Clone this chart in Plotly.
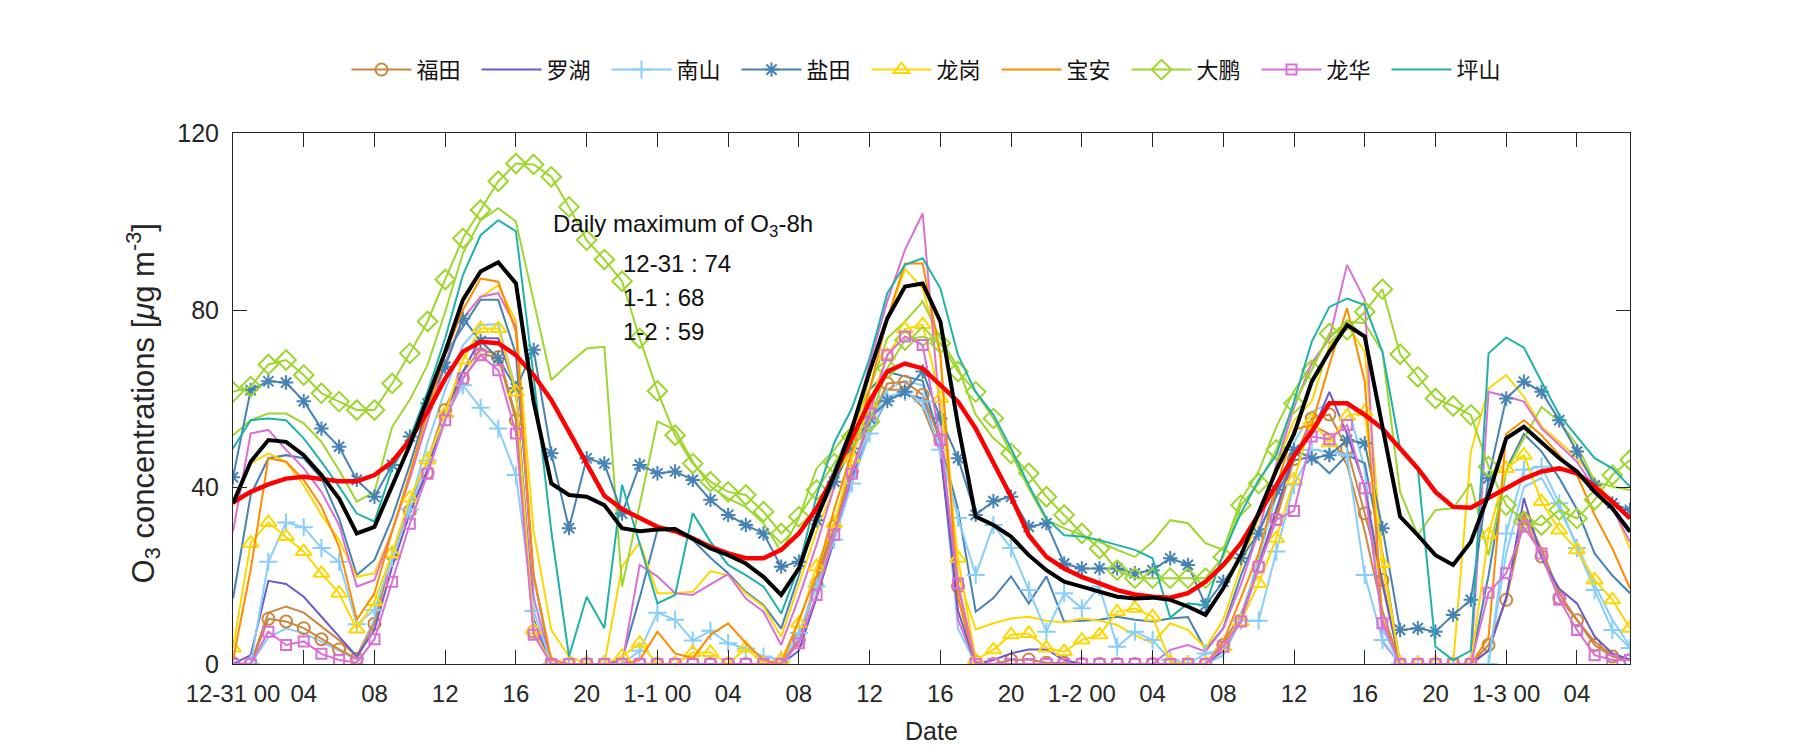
import plotly.graph_objects as go

# ---------------- data (hourly, 12-31 00:00 .. 1-3 07:00) ----------------
hours = list(range(80))
tick_hours = list(range(0, 80, 4))
tick_text = ["12-31 00", "04", "08", "12", "16", "20",
             "1-1 00", "04", "08", "12", "16", "20",
             "1-2 00", "04", "08", "12", "16", "20",
             "1-3 00", "04"]

futian = [0.2, 0, 10.2, 9.6, 8.1, 5.6, 3.3, 1.2, 9.1, 24.7,
          34.6, 43.3, 57.4, 64.5, 70.0, 69.4, 55.1, 7.3, 0, 0,
          0, 0, 0, 0, 0, 0, 0, 0, 0, 0,
          0, 0, 5.4, 18.1, 31.2, 43.5, 54.8, 63.4, 63.8, 60.8,
          50.6, 17.5, 0.5, 0, 0.9, 1.0, 0.3, 0.3, 0, 0,
          0, 0, 0, 0, 0, 0, 4.3, 9.8, 22.0, 32.7,
          46.3, 55.5, 56.4, 48.7, 34.0, 19.0, 0, 0, 0, 0,
          0, 4.3, 14.5, 32.9, 24.3, 14.9, 9.9, 4.3, 1.7, 0.9]
futian_b = [0, 0, 11.6, 13.0, 11.6, 8.5, 5.4, 1.7, 10.0, 25.0,
            36.0, 46.0, 58.0, 66.0, 71.0, 70.0, 56.0, 8.0, 0, 0,
            0, 0, 0, 0, 0, 0, 0, 0, 0, 0,
            0, 0, 6, 19, 32, 44, 55, 62, 62, 58,
            48, 15, 0, 0, 0, 0, 0, 0, 0, 0,
            0, 0, 0, 0, 0, 0, 5, 11, 23, 34,
            47, 54, 52, 45, 30, 12, 0, 0, 0, 0,
            0, 3, 15, 34, 26, 16, 10, 5, 2, 1]
luohu = [0, 2, 18.8, 18.1, 15.2, 10.7, 6.2, 1.7, 7.7, 22,
         34, 44, 57, 66, 73.6, 73.6, 62, 10, 0, 0,
         0, 0, 0, 0, 0, 0, 0, 0, 0, 0,
         0, 0, 3, 15, 28, 42, 52, 60, 61, 60,
         48, 12, 0, 0.9, 2.4, 3.3, 3.3, 0.9, 0, 0,
         0, 0, 0, 0, 0, 0, 3, 10, 22, 35,
         47, 52, 61.5, 52, 40, 18, 0, 0, 0, 0,
         0, 3, 15, 37.5, 24, 17, 13.7, 6.2, 2.4, 1.0]
nanshan = [0, 0, 23.1, 32.0, 30.9, 26.2, 23.1, 9.0, 12.2, 24,
           35, 46, 56, 63, 57.9, 53.2, 42.7, 12, 0, 0,
           0, 0, 0, 3, 11.6, 10, 5.3, 7.5, 4.7, 3.5,
           1.7, 1.0, 7, 17.5, 28.1, 40.8, 52.1, 60.4, 61.5, 59.3,
           48.4, 33, 20.1, 31.4, 26.2, 16.7, 7.3, 16.0, 12.6, 17.5,
           3.9, 7.3, 5.4, 0.9, 0, 2.4, 3.2, 9.8, 9.8, 25.4,
           40.5, 48.4, 48.0, 47.2, 20.1, 5.4, 0, 0, 0, 0,
           0, 0, 29.5, 43.9, 44.6, 36.3, 26.2, 16.7, 7.7, 3.6]
nanshan_b = [0, 0, 6, 8, 7, 5, 3, 1, 10, 25,
             36, 50, 62, 72, 76.6, 76.8, 62, 10, 0, 0,
             0, 0, 0, 0, 0, 0, 0, 0, 0, 0,
             0, 0, 6, 18, 30, 42, 54, 62, 64, 63,
             50, 8, 0, 0, 0, 0, 0, 0, 0, 0,
             0, 0, 0, 0, 0, 0, 2, 10, 24, 38,
             50, 57, 59, 59, 44, 8, 0, 0, 0, 0,
             0, 0, 25, 40, 42, 35, 27, 18, 10, 4]
yantian = [42.2, 61.9, 63.9, 63.6, 59.4, 53.2, 49.1, 41.6, 37.8, 45.0,
           51.4, 58.9, 67.2, 78.1, 73.0, 69.1, 62.3, 71.0, 47.6, 30.7,
           46.5, 45.3, 34.0, 45.0, 43.1, 43.5, 41.6, 37.1, 33.7, 31.4,
           29.5, 22.0, 23.1, 32.5, 41.2, 48.7, 55.5, 59.4, 61.5, 66.1,
           55.5, 46.5, 33.7, 36.8, 37.8, 31.0, 31.8, 22.7, 21.6, 21.6,
           21.6, 20.5, 21.2, 23.9, 22.4, 13.3, 18.6, 23.9, 29.5, 39.3,
           48.4, 46.5, 47.2, 50.6, 49.9, 30.7, 7.7, 8.1, 7.3, 11.1,
           14.5, 42.0, 60.0, 63.8, 61.5, 55.1, 48.0, 40.4, 36.3, 34.8]
yantian_b = [14.8, 38.2, 46.5, 47.2, 46.5, 42.0, 32.9, 20.1, 23.5, 33.0,
             45.0, 58.0, 70.0, 76.0, 82.3, 82.3, 70.0, 20.0, 0, 0,
             0, 0, 1, 15, 30.3, 30.5, 28, 24, 20.5, 16.3,
             13.3, 8, 20, 34, 44, 54, 62, 66, 65, 64,
             50, 35, 11.8, 14.9, 19.8, 13.7, 19.8, 9.6, 9.8, 10.0,
             10.7, 10.0, 9.6, 10.3, 10.6, 3.2, 8.1, 20, 30, 38,
             46, 46.9, 43.1, 47.2, 45.4, 25, 0, 0, 0, 0,
             0, 20, 44, 52, 48, 42, 35, 25, 20, 16]
longgang = [3.6, 27.3, 32.0, 28.8, 25.4, 20.5, 16.0, 7.9, 14.1, 25.0,
            37.5, 46.1, 56.6, 68.7, 75.8, 75.8, 61.5, 7.7, 0, 0,
            0, 0, 1.7, 4.7, 0, 0, 2.6, 2.6, 0, 3.6,
            0, 1, 9.2, 22.0, 31.8, 46.5, 58.9, 69.8, 75.7, 76.7,
            60.0, 23.9, 0.9, 3.2, 6.6, 6.9, 3.6, 2.8, 5.4, 6.6,
            11.8, 12.6, 10.7, 0.5, 0, 0, 3.9, 9.6, 18.2, 28.4,
            41.6, 55, 50, 56, 57, 22.7, 0, 0, 0, 0,
            0, 29.2, 44.2, 47.2, 36.7, 30.3, 25.8, 19.0, 14.5, 8.1]
longgang_b = [35.9, 45.3, 47.6, 45.7, 40.4, 33.7, 28.0, 19.7, 20.5, 30.0,
              42.0, 55.0, 68.0, 78.0, 82.9, 85.6, 77.4, 30.0, 7.7, 1.7,
              0, 0, 22.0, 27.5, 16.0, 16.0, 16.3, 21.0, 20.0, 16.0,
              13.0, 6.2, 18.0, 30.0, 40.0, 50.0, 65.0, 78.0, 89.3, 84.9,
              70.0, 20.0, 7.8, 9.2, 10.3, 10.7, 9.8, 9.4, 10.3, 9.8,
              8.8, 6.6, 4.7, 9.2, 7.7, 3.6, 10.0, 22.0, 33.0, 45.0,
              55.0, 59.3, 72.0, 76.6, 70.6, 24.3, 0, 0, 0, 0,
              48.0, 62.3, 65.3, 60.4, 53.6, 50.2, 46.5, 41.9, 35.9, 26.1]
baoan = [0.9, 21.3, 46.5, 45.7, 41.6, 35.6, 26.5, 10.0, 16.0, 30.0,
         43.0, 57.0, 70.0, 80.0, 87.1, 86.4, 75.1, 20.0, 1.0, 0,
         0, 0, 0, 0.9, 7.3, 2.4, 1.3, 6.6, 9.2, 4.7,
         0.9, 0, 10.0, 20.0, 35.0, 48.0, 62.0, 78.0, 90.5, 90.5,
         70.0, 15.0, 0, 0, 0, 0, 0, 0, 0, 0,
         0, 0, 0, 0, 0, 0, 5.0, 15.0, 25.0, 40.0,
         53.0, 54.0, 67.6, 80.4, 63.8, 10.0, 0, 0, 0, 0,
         0, 6.0, 52.0, 55.1, 51.7, 47.2, 42.7, 33.7, 26.1, 17.1]
dapeng = [61.5, 62.7, 67.7, 68.7, 65.3, 61.2, 59.3, 57.4, 57.4, 63.4,
          70.2, 77.4, 86.9, 96.2, 102.6, 109.1, 113.1, 112.9, 110.1, 103.3,
          95.8, 91.4, 86.5, 73.6, 61.7, 51.7, 45.3, 41.2, 38.9, 38.2,
          34.4, 29.5, 33.3, 39.3, 45.3, 51.4, 54.8, 66.8, 73.2, 74.0,
          72.5, 66.1, 61.5, 55.5, 47.6, 43.1, 37.8, 33.7, 29.5, 26.1,
          21.2, 19.4, 19.4, 19.4, 19.4, 19.4, 24.2, 35.9, 40.8, 48.4,
          58.9, 66.4, 74.7, 75.5, 79.6, 84.7, 70.0, 64.9, 60.0, 58.3,
          56.3, 44.6, 35.9, 32.2, 31.4, 34.8, 32.9, 37.1, 42.7, 46.1]
dapeng_b = [51.7, 55.1, 56.6, 56.6, 54.4, 50.2, 43.8, 36.7, 38.9, 53.6,
            59.7, 67.6, 79.6, 92.8, 100.3, 103.0, 100.0, 81.9, 64.2, 67.9,
            71.3, 71.7, 17.5, 36.0, 54.8, 52.9, 45.7, 40.1, 37.4, 35.5,
            31.8, 25.4, 33.0, 44.2, 48.4, 53.6, 62.0, 73.6, 77.4, 81.9,
            73.6, 67.0, 56.3, 51.0, 47.6, 39.7, 32.5, 30.7, 29.1, 27.6,
            25.8, 24.2, 27.6, 32.5, 31.8, 27.3, 25.8, 37.1, 43.5, 53.6,
            61.7, 67.6, 73.6, 77.4, 77.0, 70.6, 38.9, 29.1, 34.8, 35.2,
            40.8, 24.6, 43.5, 51.0, 58.1, 54.8, 49.5, 41.2, 40.1, 39.3]
longhua = [0, 0, 7.3, 4.3, 5.1, 2.3, 0.9, 0.3, 5.6, 18.6,
           31.7, 43.0, 55.1, 64.5, 69.8, 66.4, 52.1, 6.6, 0, 0,
           0, 0, 0, 0, 0, 0, 0, 0, 0, 0,
           0, 0, 4.7, 15.6, 29.2, 43.0, 56.6, 69.8, 74.0, 72.1,
           50.6, 18.2, 0, 0, 0, 0, 0, 0, 0, 0,
           0, 0, 0, 0, 0, 0, 3.9, 9.6, 22.0, 32.6,
           34.6, 51.4, 50.8, 54.0, 39.7, 9.2, 0, 0, 0, 0,
           0, 16.1, 20.5, 31.0, 25.0, 14.5, 7.7, 2.0, 0.9, 0.9]
longhua_b = [29.9, 52.1, 52.9, 48.4, 44.2, 38.9, 31.4, 17.5, 19.0, 30.0,
             42.0, 55.0, 68.0, 78.0, 83.0, 83.8, 76.2, 15.0, 0, 0,
             0, 0, 0, 22.4, 19.8, 16.0, 15.6, 18.0, 20.3, 14.8,
             11.8, 4.3, 15.0, 27.0, 40.0, 52.0, 68.0, 82.0, 93.6, 101.8,
             55.0, 10.0, 0, 0, 0, 0, 0, 0, 0, 0,
             0, 0, 0, 3.2, 4.3, 2.8, 8.0, 18.0, 30.0, 45.0,
             58.0, 68.0, 73.6, 90.2, 82.3, 5.0, 0, 0, 0, 0,
             0, 61.5, 60.5, 59.3, 53.2, 49.5, 45.7, 39.7, 35.2, 27.6]
pingshan = [48.7, 55.1, 55.5, 55.1, 51.0, 45.7, 40.1, 34.0, 32.2, 44.2,
            51.0, 61.5, 73.6, 87.9, 96.9, 100.3, 97.8, 65.0, 30.0, 1.7,
            15.2, 8.1, 40.5, 27.0, 13.7, 15.6, 34.1, 27.6, 22.4, 20.1,
            17.5, 11.4, 22.0, 38.0, 50.0, 57.8, 69.1, 83.8, 90.2, 91.7,
            84.9, 69.8, 61.5, 56.3, 48.7, 40.4, 32.9, 29.1, 28.8, 28.0,
            26.9, 25.8, 23.9, 10.5, 13.7, 13.3, 25.0, 34.1, 41.6, 47.2,
            59.3, 72.8, 80.7, 82.6, 81.1, 70.6, 48.7, 44.2, 3.9, 0.9,
            3.0, 70.2, 73.8, 71.5, 63.8, 56.3, 51.4, 46.5, 44.2, 40.1]
city_mean = [36.3, 45.7, 50.6, 50.2, 47.2, 42.7, 37.4, 29.5, 31.0, 40.4,
             49.5, 60.0, 70.6, 82.3, 88.7, 90.8, 86.0, 59.3, 40.8, 38.2,
             37.8, 35.9, 30.7, 30.0, 30.4, 30.5, 28.4, 26.1, 24.6, 22.7,
             19.7, 15.6, 21.6, 32.9, 42.7, 53.2, 66.1, 78.1, 85.3, 86.0,
             77.4, 54.0, 33.3, 31.4, 28.8, 24.6, 21.2, 18.6, 17.5, 16.3,
             15.2, 14.8, 15.0, 14.5, 13.0, 11.1, 17.1, 24.6, 34.0, 43.8,
             52.0, 63.8, 70.6, 76.6, 74.0, 54.0, 33.3, 29.1, 24.6, 22.4,
             27.6, 38.2, 51.0, 53.6, 50.2, 46.5, 43.5, 38.9, 35.2, 29.9]
mean_8h = [36.5, 38.9, 40.6, 41.9, 42.3, 41.8, 41.3, 41.3, 42.7, 45.7,
           50.6, 57.0, 64.5, 70.6, 72.8, 72.5, 69.8, 65.3, 59.7, 52.5,
           45.0, 38.0, 35.0, 33.0, 31.0, 30.0, 28.4, 26.5, 25.0, 23.9,
           23.9, 25.8, 29.5, 35.2, 42.7, 51.0, 59.3, 66.1, 67.9, 66.8,
           63.0, 59.3, 53.2, 45.7, 37.8, 29.1, 24.2, 21.6, 19.7, 18.2,
           16.7, 15.7, 15.2, 15.0, 16.0, 18.6, 22.4, 27.3, 33.7, 40.4,
           47.0, 52.5, 58.9, 58.9, 56.3, 53.2, 48.7, 44.2, 38.9, 35.5,
           35.3, 37.4, 39.7, 41.9, 43.5, 44.2, 43.1, 40.1, 36.7, 32.9]

daily_max_label = ["12-31 : 74", "1-1 : 68", "1-2 : 59"]

# ---------------- styling ----------------
C_FUTIAN = "#CD853F"
C_LUOHU = "#6A5ACD"
C_NANSHAN = "#87CEFA"
C_YANTIAN = "#4682B4"
C_LONGGANG = "#FFD700"
C_BAOAN = "#FF8C00"
C_DAPENG = "#9ED62E"
C_LONGHUA = "#DA70D6"
C_PINGSHAN = "#20B2AA"

TXT = "Liberation Sans, Arial, sans-serif"
CJK = "Noto Sans CJK SC, sans-serif"
AX = "#262626"

fig = go.Figure()


def plain(y, color, name=None, legend=False, width=2):
    fig.add_trace(go.Scatter(
        x=hours, y=y, mode="lines", name=name, showlegend=legend,
        line=dict(color=color, width=width)))


def marked(y, color, name, symbol, size):
    fig.add_trace(go.Scatter(
        x=hours, y=y, mode="lines+markers", name=name,
        line=dict(color=color, width=2),
        marker=dict(symbol=symbol, size=size, color=color,
                    line=dict(color=color, width=2))))


# secondary (unmarked) lines
plain(futian_b, C_FUTIAN)
plain(nanshan_b, C_NANSHAN)
plain(yantian_b, C_YANTIAN)
plain(longgang_b, C_LONGGANG)
plain(dapeng_b, C_DAPENG)
plain(longhua_b, C_LONGHUA)

# legend series
marked(futian, C_FUTIAN, "福田", "circle-open", 12)
plain(luohu, C_LUOHU, "罗湖", True)
marked(nanshan, C_NANSHAN, "南山", "cross-thin-open", 13)
marked(yantian, C_YANTIAN, "盐田", "asterisk-open", 12)
marked(longgang, C_LONGGANG, "龙岗", "triangle-up-open", 14)
plain(baoan, C_BAOAN, "宝安", True)
marked(dapeng, C_DAPENG, "大鹏", "diamond-open", 15)
marked(longhua, C_LONGHUA, "龙华", "square-open", 10)
plain(pingshan, C_PINGSHAN, "坪山", True)

# averages
plain(mean_8h, "#FF0000", width=4.5)
plain(city_mean, "#000000", width=4)

annotations = [
    dict(x=18.0, y=99.2, xref="x", yref="y", xanchor="left", yanchor="middle",
         text="Daily maximum of O<sub>3</sub>-8h", showarrow=False,
         font=dict(family=TXT, size=24, color="#111111")),
]
for i, lab in enumerate(daily_max_label):
    annotations.append(dict(
        x=21.95, y=90.6 - 7.7 * i, xref="x", yref="y", xanchor="left",
        yanchor="middle", text=lab, showarrow=False,
        font=dict(family=TXT, size=24, color="#111111")))
annotations.append(dict(
    x=-0.064, y=0.49, xref="paper", yref="paper", textangle=-90,
    xanchor="center", yanchor="middle", showarrow=False,
    text="O<sub>3</sub> concentrations [<i>μ</i>g m<sup>-3</sup>]",
    font=dict(family=TXT, size=31, color="#262626")))
annotations.append(dict(
    x=0.5, y=-0.126, xref="paper", yref="paper", xanchor="center",
    yanchor="middle", showarrow=False, text="Date",
    font=dict(family=TXT, size=25, color="#262626")))

# page body adds an 8 px offset, so the figure is sized to fit the window
fig.update_layout(
    width=1792, height=742,
    margin=dict(l=225, r=170, t=125, b=86),
    paper_bgcolor="white", plot_bgcolor="white",
    annotations=annotations,
    legend=dict(orientation="h", x=0.5, xanchor="center", y=1.119,
                yanchor="middle", font=dict(family=CJK, size=22, color="#111111"),
                itemwidth=60, entrywidth=55, bgcolor="rgba(0,0,0,0)"),
    xaxis=dict(range=[0, 79], tickmode="array", tickvals=tick_hours,
               ticktext=tick_text, showgrid=False, zeroline=False,
               showline=True, mirror="ticks", linecolor=AX, linewidth=1,
               ticks="inside", ticklen=14, tickcolor=AX, tickwidth=1,
               tickfont=dict(family=TXT, size=24, color="#262626"),
               ticklabelstandoff=8),
    yaxis=dict(range=[0, 120], tickmode="array", tickvals=[0, 40, 80, 120],
               showgrid=False, zeroline=False,
               showline=True, mirror="ticks", linecolor=AX, linewidth=1,
               ticks="inside", ticklen=14, tickcolor=AX, tickwidth=1,
               tickfont=dict(family=TXT, size=25, color="#262626"),
               ticklabelstandoff=8),
)

fig.write_html("out.html")
